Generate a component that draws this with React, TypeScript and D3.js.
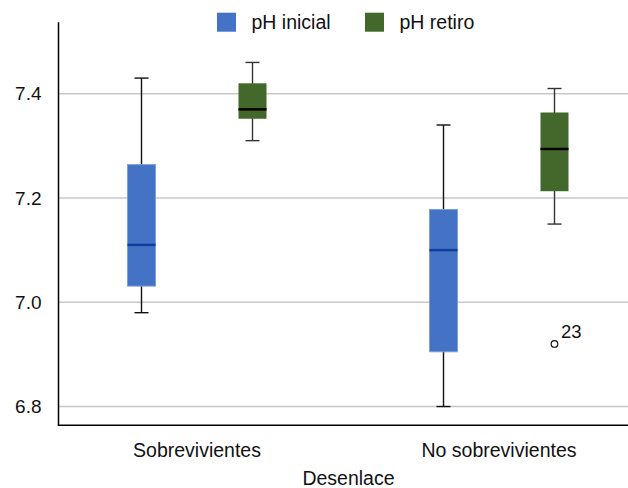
import React, { useEffect, useRef } from "react";
import * as d3 from "d3";

// data
const categories = ["Sobrevivientes", "No sobrevivientes"];
const seriesNames = ["pH inicial", "pH retiro"];
// [min, q1, median, q3, max] per category
const inicialStats = [
  [6.98, 7.031, 7.11, 7.264, 7.43],
  [6.8, 6.905, 7.1, 7.178, 7.34],
];
const retiroStats = [
  [7.31, 7.352, 7.37, 7.42, 7.46],
  [7.15, 7.213, 7.294, 7.364, 7.41],
];
const outlierCategory = ["No sobrevivientes"];
const outlierSeries = ["pH retiro"];
const outlierValues = [6.92];
const outlierLabels = ["23"];
const yTicks = [6.8, 7.0, 7.2, 7.4];

const W = 628;
const H = 488;
const FONT = "'Liberation Sans', Arial, Helvetica, sans-serif";

export default function App() {
  const ref = useRef<SVGSVGElement>(null);

  useEffect(() => {
    const svg = d3.select(ref.current);
    svg.selectAll("*").remove();

    const colors = d3.scaleOrdinal<string>().domain(seriesNames).range(["#4472C4", "#43682B"]);
    const medianColors = d3.scaleOrdinal<string>().domain(seriesNames).range(["#123d9c", "#000000"]);
    const stats = [inicialStats, retiroStats];

    const left = 58.5;
    const bottom = 425.3;
    const top = 22.3;

    const y = d3.scaleLinear().domain([6.764, 7.537]).range([bottom, top]);
    const x = d3.scaleBand<string>().domain(categories).range([46, 650]);
    const inner = d3
      .scaleBand<string>()
      .domain(seriesNames)
      .range([0, x.bandwidth()])
      .paddingInner(0.7477)
      .paddingOuter(0.7342);

    // grid lines
    svg
      .append("g")
      .selectAll("line")
      .data(yTicks)
      .join("line")
      .attr("x1", left)
      .attr("x2", W)
      .attr("y1", (d) => y(d))
      .attr("y2", (d) => y(d))
      .attr("stroke", "#c8c8c8")
      .attr("stroke-width", 1.5);

    // y tick labels
    svg
      .append("g")
      .selectAll("text")
      .data(yTicks)
      .join("text")
      .attr("x", 41.5)
      .attr("y", (d) => y(d))
      .attr("dy", "0.35em")
      .attr("text-anchor", "end")
      .attr("font-family", FONT)
      .attr("font-size", 19)
      .attr("fill", "#111")
      .text((d) => d.toFixed(1));

    // boxes
    seriesNames.forEach((s, si) => {
      categories.forEach((c, ci) => {
        const [lo, q1, med, q3, hi] = stats[si][ci];
        const x0 = (x(c) as number) + (inner(s) as number);
        const bw = inner.bandwidth();
        const cx = x0 + bw / 2;
        const g = svg.append("g");
        const whisker = si === 0 ? "#111" : "#333";
        g.append("line")
          .attr("x1", cx)
          .attr("x2", cx)
          .attr("y1", y(hi))
          .attr("y2", y(lo))
          .attr("stroke", whisker)
          .attr("stroke-width", 1.4);
        [hi, lo].forEach((v) => {
          g.append("line")
            .attr("x1", cx - 7)
            .attr("x2", cx + 7)
            .attr("y1", y(v))
            .attr("y2", y(v))
            .attr("stroke", whisker)
            .attr("stroke-width", 1.4);
        });
        g.append("rect")
          .attr("x", x0)
          .attr("y", y(q3))
          .attr("width", bw)
          .attr("height", y(q1) - y(q3))
          .attr("fill", colors(s))
          .attr("stroke", si === 0 ? "#7c9fdd" : "none")
          .attr("stroke-width", 1);
        g.append("line")
          .attr("x1", x0)
          .attr("x2", x0 + bw)
          .attr("y1", y(med))
          .attr("y2", y(med))
          .attr("stroke", medianColors(s))
          .attr("stroke-width", 2.5);
      });
    });

    // outliers
    outlierValues.forEach((v, i) => {
      const cx =
        (x(outlierCategory[i]) as number) + (inner(outlierSeries[i]) as number) + inner.bandwidth() / 2;
      svg
        .append("circle")
        .attr("cx", cx)
        .attr("cy", y(v))
        .attr("r", 3.3)
        .attr("fill", "#fff")
        .attr("stroke", "#111")
        .attr("stroke-width", 1.2);
      svg
        .append("text")
        .attr("x", cx + 6.5)
        .attr("y", y(v) - 6)
        .attr("font-family", FONT)
        .attr("font-size", 18.5)
        .attr("fill", "#111")
        .text(outlierLabels[i]);
    });

    // axes lines
    svg
      .append("line")
      .attr("x1", left)
      .attr("x2", left)
      .attr("y1", top)
      .attr("y2", bottom)
      .attr("stroke", "#000")
      .attr("stroke-width", 1.5);
    svg
      .append("line")
      .attr("x1", left - 0.75)
      .attr("x2", W)
      .attr("y1", bottom)
      .attr("y2", bottom)
      .attr("stroke", "#000")
      .attr("stroke-width", 1.5);

    // category labels
    svg
      .append("g")
      .selectAll("text")
      .data(categories)
      .join("text")
      .attr("x", (d) => (x(d) as number) + x.bandwidth() / 2)
      .attr("y", 457)
      .attr("text-anchor", "middle")
      .attr("font-family", FONT)
      .attr("font-size", 19.5)
      .attr("fill", "#111")
      .text((d) => d);

    svg
      .append("text")
      .attr("x", 348.5)
      .attr("y", 485)
      .attr("text-anchor", "middle")
      .attr("font-family", FONT)
      .attr("font-size", 19.5)
      .attr("fill", "#111")
      .text("Desenlace");

    // legend
    const legend = svg
      .append("g")
      .selectAll("g")
      .data(seriesNames)
      .join("g")
      .attr("transform", (d, i) => `translate(${217 + i * 148},12.7)`);
    legend
      .append("rect")
      .attr("width", 19)
      .attr("height", 19)
      .attr("fill", (d) => colors(d));
    legend
      .append("text")
      .attr("x", 34.5)
      .attr("y", 9.5)
      .attr("dy", "0.35em")
      .attr("font-family", FONT)
      .attr("font-size", 19.5)
      .attr("fill", "#111")
      .text((d) => d);
  }, []);

  return (
    <div style={{ position: "fixed", left: 0, top: 0 }}>
      <svg ref={ref} width={W} height={H} style={{ display: "block", background: "#fff" }} />
    </div>
  );
}
